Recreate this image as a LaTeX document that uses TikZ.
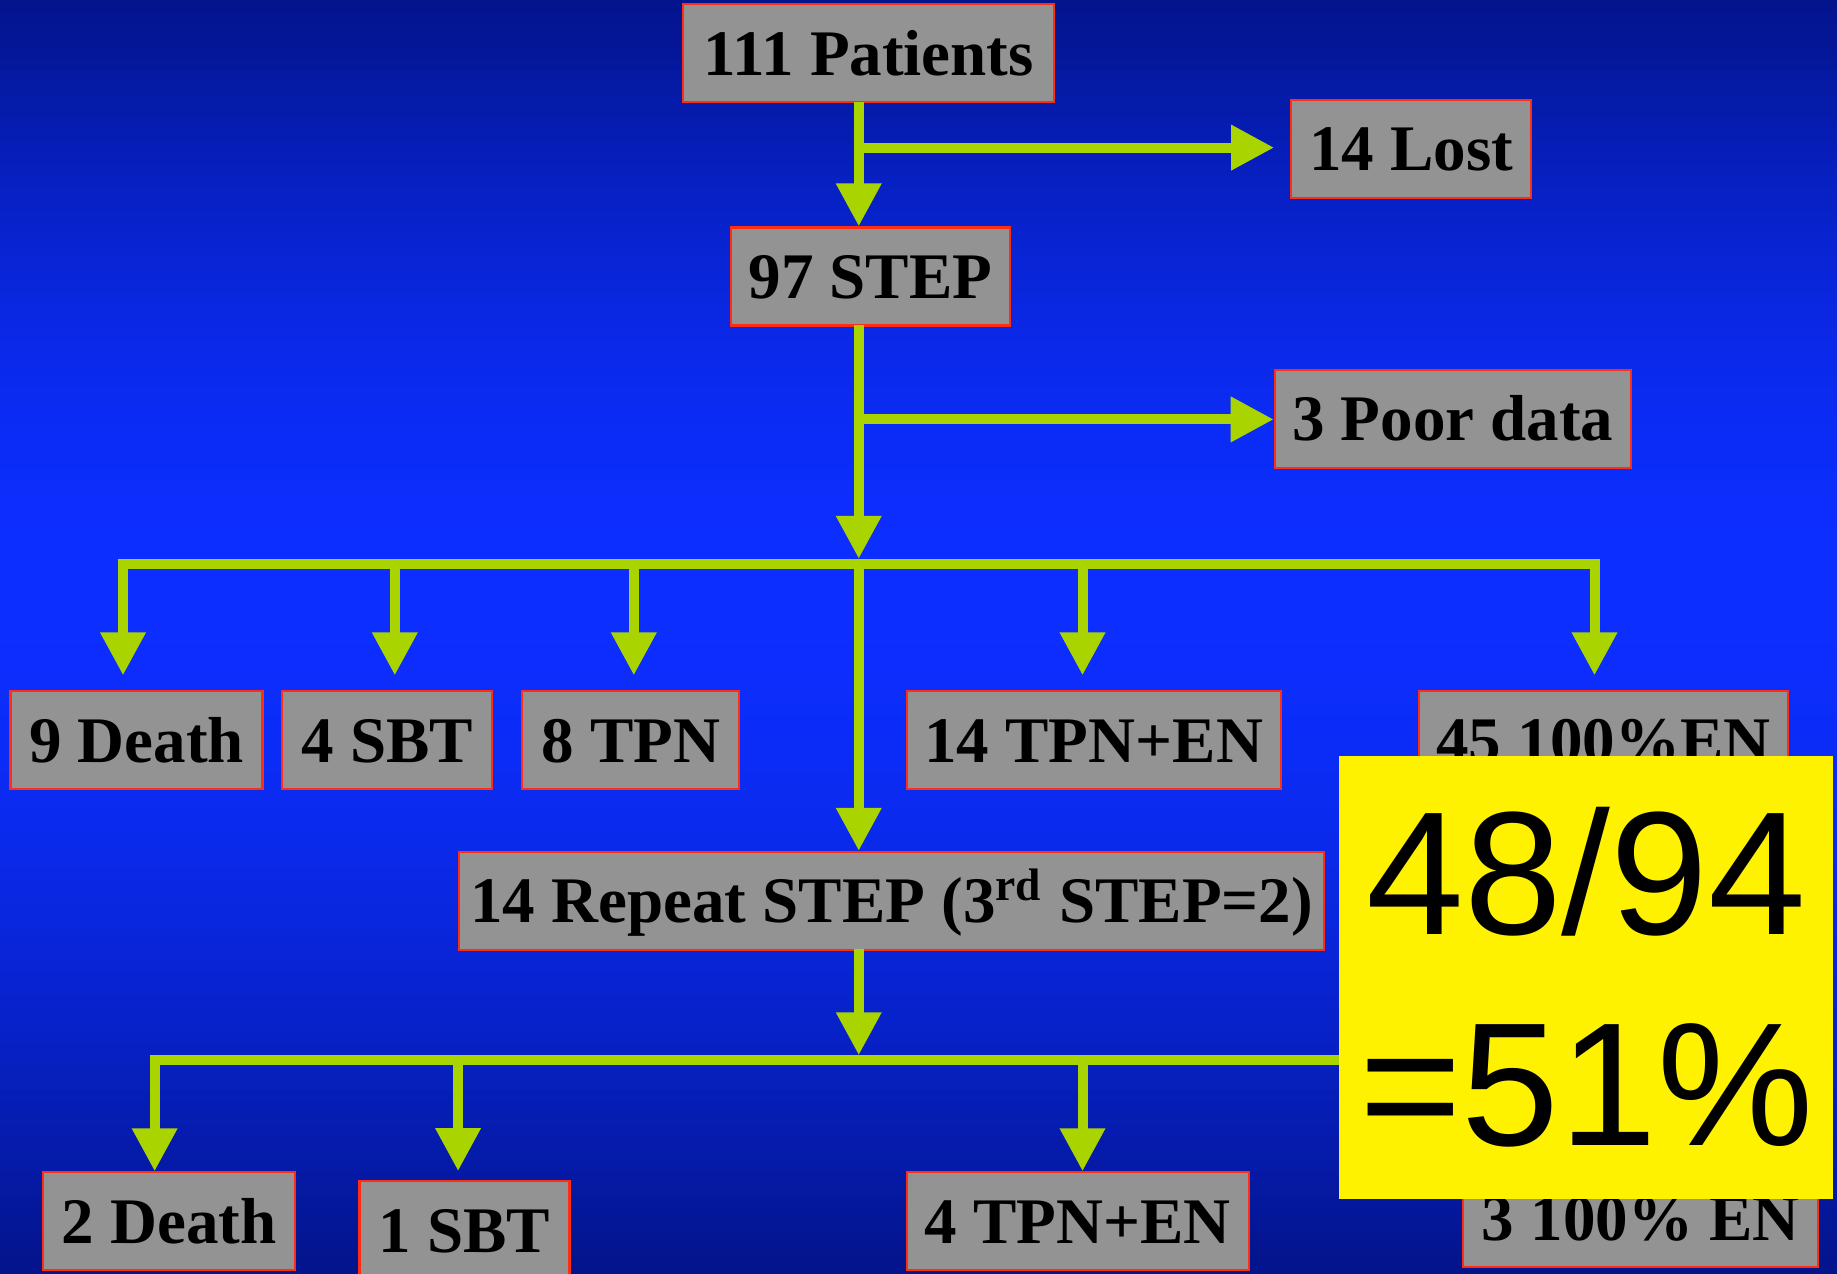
\documentclass[tikz,border=0pt]{standalone}
\usepackage{fontspec}
\setmainfont{Liberation Serif}
\newfontfamily\arialfont{Liberation Sans}
\usetikzlibrary{arrows.meta}
\definecolor{bg_dark}{RGB}{3, 20, 140}
\definecolor{bg_mid}{RGB}{12, 46, 255}
\definecolor{box_gray}{RGB}{147, 147, 147}
\definecolor{box_red}{RGB}{255, 45, 20}
\definecolor{arr_green}{RGB}{170, 212, 0}
\tikzstyle{gb}=[rectangle,fill=box_gray,draw=box_red,line width=0.6pt,
  inner sep=0pt,text height=0.71cm,text depth=0.27cm,
  font=\fontsize{18.5}{21}\selectfont\bfseries]
\tikzstyle{yb}=[rectangle,fill=yellow,inner sep=0pt,align=center,
  font=\arialfont\fontsize{50}{60}\selectfont]
\tikzstyle{ga}=[draw=arr_green,line width=0.1cm,
  -{Triangle[length=0.43cm,width=0.43cm]}]
\tikzstyle{gl}=[draw=arr_green,line width=0.1cm,line cap=rect]
\tikzstyle{none}=[]

\begin{document}
\begin{tikzpicture}[x=0.011716cm, y=-0.011716cm]
    \useasboundingbox (0, 0) rectangle (1568, 1087);
    \foreach \i in {0,...,108} {
        \pgfmathtruncatemacro{\p}{\i<=49 ? 100*sin(90*\i/49) : 100*sin(90*(108-\i)/59)}
        \fill [bg_mid!\p!bg_dark] (0, 10*\i) rectangle (1568, 10*\i+10.6);
    }
    \node [style=gb, minimum width=3.71cm] (0) at (741.5, 45.5) {111 Patients};
    \node [style=gb, minimum width=2.40cm] (1) at (1204.5, 127) {14 Lost};
    \node [style=gb, minimum width=2.79cm] (2) at (743, 236) {97 STEP};
    \node [style=gb, minimum width=3.56cm] (3) at (1240, 357.5) {3 Poor data};
    \node [style=gb, minimum width=2.52cm] (4) at (116.5, 632) {9 Death};
    \node [style=gb, minimum width=2.10cm] (5) at (330.5, 632) {4 SBT};
    \node [style=gb, minimum width=2.17cm] (6) at (538.5, 632) {8 TPN};
    \node [style=gb, minimum width=3.74cm] (7) at (933.5, 632) {14 TPN+EN};
    \node [style=gb, minimum width=3.69cm] (8) at (1368.5, 632) {45 100\%EN};
    \node [style=gb, minimum width=8.65cm] (9) at (761, 769) {14 Repeat STEP (3\textsuperscript{rd} STEP=2)};
    \node [style=gb, minimum width=2.52cm] (10) at (144.5, 1042.5) {2 Death};
    \node [style=gb, minimum width=2.10cm] (11) at (396.5, 1050) {1 SBT};
    \node [style=gb, minimum width=3.42cm] (12) at (920, 1042.5) {4 TPN+EN};
    \node [style=gb, minimum width=3.55cm] (13) at (1400.5, 1040) {3 100\% EN};
    \node [style=none] (15) at (733, 87) {};
    \node [style=none] (16) at (733, 126) {};
    \node [style=none] (18) at (733, 277) {};
    \node [style=none] (19) at (733, 358) {};
    \node [style=none] (20) at (733, 477) {};
    \node [style=none] (21) at (105, 481) {};
    \node [style=none] (22) at (337, 481) {};
    \node [style=none] (23) at (541, 481) {};
    \node [style=none] (24) at (924, 481) {};
    \node [style=none] (25) at (1361, 481) {};
    \node [style=none] (26) at (733, 810) {};
    \node [style=none] (27) at (733, 905) {};
    \node [style=none] (28) at (132, 905) {};
    \node [style=none] (29) at (391, 905) {};
    \node [style=none] (30) at (924, 905) {};
    \node [style=none] (31) at (1400, 905) {};
    \draw [style=ga] (15.center) to (15.center |- 2.north);
    \draw [style=ga, shorten >=0.16cm] (16.center) to (16.center -| 1.west);
    \draw [style=ga] (18.center) to (20.center);
    \draw [style=ga] (19.center) to (19.center -| 3.west);
    \draw [style=gl] (21.center) to (25.center);
    \draw [style=ga, shorten >=0.15cm] (21.center) to (21.center |- 4.north);
    \draw [style=ga, shorten >=0.15cm] (22.center) to (22.center |- 5.north);
    \draw [style=ga, shorten >=0.15cm] (23.center) to (23.center |- 6.north);
    \draw [style=ga, shorten >=0.15cm] (24.center) to (24.center |- 7.north);
    \draw [style=ga, shorten >=0.15cm] (25.center) to (25.center |- 8.north);
    \draw [style=ga] (20.center) to (20.center |- 9.north);
    \draw [style=ga, shorten >=0.05cm] (26.center) to (27.center);
    \draw [style=gl] (28.center) to (31.center);
    \draw [style=ga] (28.center) to (28.center |- 10.north);
    \draw [style=ga, shorten >=0.09cm] (29.center) to (29.center |- 11.north);
    \draw [style=ga] (30.center) to (30.center |- 12.north);
    \draw [style=ga] (31.center) to (31.center |- 13.north);
    \node [style=yb, minimum width=4.94cm, minimum height=4.43cm] (32) at (1354, 834) {48/94\\=51\%};
\end{tikzpicture}
\end{document}
